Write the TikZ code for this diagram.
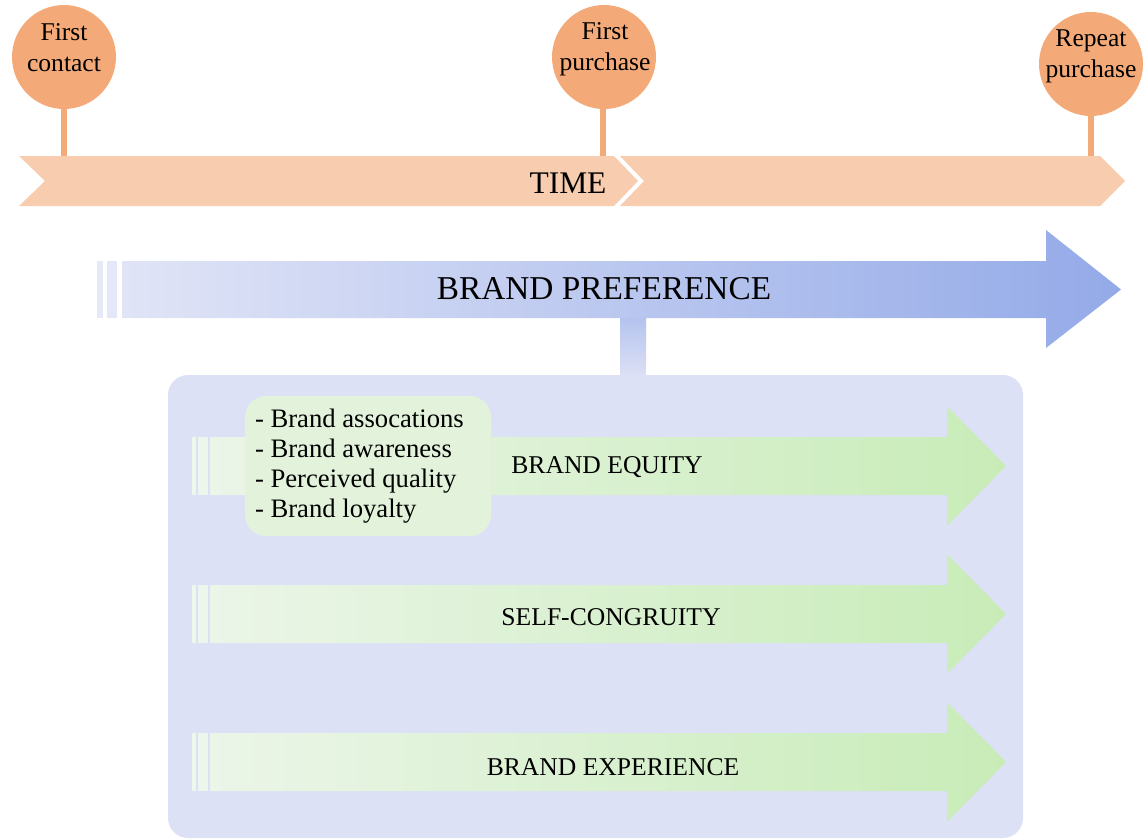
\documentclass[tikz,border=0pt]{standalone}
\usepackage{fontspec}
\setmainfont{Liberation Serif}
\definecolor{band}{HTML}{F8CCAE}
\definecolor{dot}{HTML}{F4AA78}
\definecolor{prefL}{HTML}{E0E4F6}
\definecolor{prefM}{HTML}{D2D9F3}
\definecolor{prefR}{HTML}{94AAE8}
\definecolor{stubtop}{HTML}{B4C3EE}
\definecolor{panel}{HTML}{DDE1F5}
\definecolor{grnL}{HTML}{EBF5E8}
\definecolor{grnM}{HTML}{E0F2D8}
\definecolor{grnR}{HTML}{C8ECB8}
\definecolor{callout}{HTML}{E3F3DB}
\begin{document}
\begin{tikzpicture}[x=0.75pt,y=-0.75pt,
  every node/.style={inner sep=0pt, outer sep=0pt},
  milestone/.style={circle, fill=dot, minimum size=78pt},
  stem/.style={draw=dot, line width=4.5pt},
  circtext/.style={align=center, font=\fontsize{19.2}{23.3}\selectfont},
  biglabel/.style={font=\fontsize{25}{30}\selectfont},
  timelabel/.style={font=\fontsize{23.6}{28}\selectfont},
  arrowlabel/.style={font=\fontsize{19.2}{23}\selectfont},
  listtext/.style={align=left, font=\fontsize{20}{22.5}\selectfont}]
\useasboundingbox (0,0) rectangle (1148,839);

% ---- time band ----
\fill[band] (19,156) -- (614,156) -- (638,181) -- (614,206) -- (19,206) -- (45,181) -- cycle;
\fill[band] (620,156) -- (1100,156) -- (1125,181) -- (1100,206) -- (620,206) -- (644,181) -- cycle;
\node[timelabel] (time) at (568,183) {TIME};

% ---- milestones ----
\coordinate (t1) at (64,156);
\coordinate (t2) at (603,156);
\coordinate (t3) at (1091,156);
\node[milestone] (c1) at (64,57) {};
\node[milestone] (c2) at (604,57) {};
\node[milestone] (c3) at (1091,64) {};
\draw[stem] (c1.south) -- (t1);
\draw[stem] (c2.south -| t2) -- (t2);
\draw[stem] (c3.south) -- (t3);
\node[circtext] (c1t) at (64,48) {First\\contact};
\node[circtext] (c2t) at (605,49) {First\\purchase};
\node[circtext] (c3t) at (1091,56) {Repeat\\purchase};

% ---- brand preference arrow ----
\fill[prefL!80!white] (97,261) rectangle (103,318);
\fill[prefL!90!white] (107,261) rectangle (117,318);
\shade[left color=prefL, middle color=prefM, right color=prefR]
  (122,261) -- (1046,261) -- (1046,230) -- (1121,289.5) -- (1046,348) -- (1046,318) -- (122,318) -- cycle;
\node[biglabel] (pref) at (604,289) {BRAND PREFERENCE};

% ---- link to the panel ----
\shade[top color=stubtop, bottom color=panel] (620,318) rectangle (646,377);

% ---- panel ----
\fill[panel, rounded corners=15pt] (168,375) rectangle (1023,838);

% ---- green arrows ----
\foreach \yc in {466,614,762}{
  \fill[grnL!85!white] (192,{\yc-29}) rectangle (196,{\yc+29});
  \fill[grnL!90!white] (198,{\yc-29}) rectangle (208,{\yc+29});
  \shade[left color=grnL, middle color=grnM, right color=grnR]
    (210,{\yc-29}) -- (947,{\yc-29}) -- (947,{\yc-60}) -- (1006,\yc) -- (947,{\yc+60}) -- (947,{\yc+29}) -- (210,{\yc+29}) -- cycle;
}
\node[arrowlabel] (equity) at (607,467) {BRAND EQUITY};
\node[arrowlabel] (congr) at (611,617) {SELF-CONGRUITY};
\node[arrowlabel] (exper) at (613,767) {BRAND EXPERIENCE};

% ---- equity components ----
\fill[callout, rounded corners=16pt] (245,396) rectangle (491,536);
\node[listtext, anchor=west] (list) at (255,466)
  {- Brand assocations\\- Brand awareness\\- Perceived quality\\- Brand loyalty};
\end{tikzpicture}
\end{document}
